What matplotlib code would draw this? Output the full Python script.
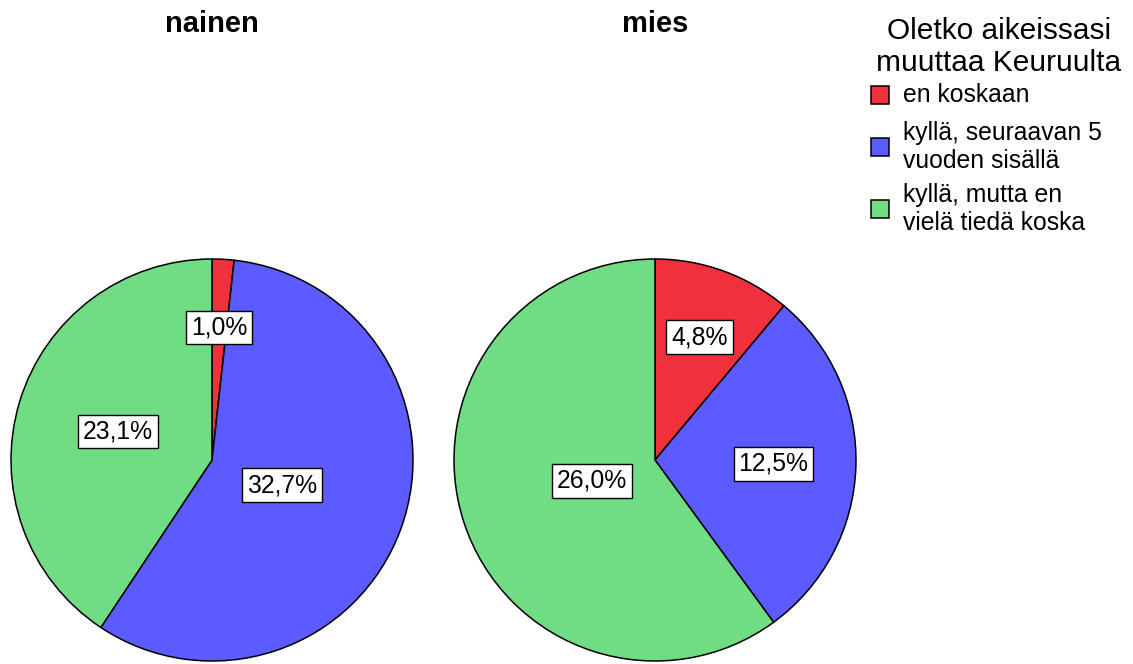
import numpy as np
import matplotlib.pyplot as plt
from matplotlib.patches import Rectangle

plt.rcParams['font.family'] = ['Liberation Sans', 'DejaVu Sans']

# Data (percent of all respondents)
groups = ['nainen', 'mies']
categories = ['en koskaan', 'kyllä, seuraavan 5\nvuoden sisällä', 'kyllä, mutta en\nvielä tiedä koska']
nainen = [1.0, 32.7, 23.1]
mies = [4.8, 12.5, 26.0]
legend_title = 'Oletko aikeissasi\nmuuttaa Keuruulta'

colors = ['#F0303C', '#5B5BFF', '#70DC84']

# Layout in pixels (y measured from the top)
W, H = 1133, 664
centers = [(212, 460), (655, 460)]
radius = 201
label_dist = [[0.66, 0.37, 0.49], [0.65, 0.59, 0.33]]

fig = plt.figure(figsize=(W / 100, H / 100), dpi=100)
ax = fig.add_axes([0, 0, 1, 1])

for i, (name, vals) in enumerate(zip(groups, [nainen, mies])):
    cx, cy = centers[i]
    cy = H - cy
    wedges, _ = ax.pie(vals, colors=colors, startangle=90, counterclock=False,
                       center=(cx, cy), radius=radius,
                       wedgeprops=dict(edgecolor='black', linewidth=1.1))
    for w, v, d in zip(wedges, vals, label_dist[i]):
        ang = np.deg2rad((w.theta1 + w.theta2) / 2)
        ax.text(cx + d * radius * np.cos(ang), cy + d * radius * np.sin(ang),
                f'{v:.1f}%'.replace('.', ','), ha='center', va='center', fontsize=17.8,
                bbox=dict(boxstyle='square,pad=0.2', facecolor='white',
                          edgecolor='black', linewidth=1.0))
    ax.text(cx, H - 24, name, ha='center', va='center', fontsize=21, fontweight='bold')

# Legend
ax.text(999, H - 47, legend_title, ha='center', va='center', fontsize=21.5,
        linespacing=1.15)
entry_y = [95, 147, 209]
for c, lab, y in zip(colors, categories, entry_y):
    ax.add_patch(Rectangle((871, H - y - 9), 18, 18, facecolor=c, edgecolor='black',
                           linewidth=1.1))
    ax.text(903, H - y, lab, ha='left', va='center', fontsize=17.8, linespacing=1.25)

ax.set_xlim(0, W)
ax.set_ylim(0, H)
ax.set_aspect('equal')
ax.axis('off')

fig.savefig('out.png', dpi=100)
